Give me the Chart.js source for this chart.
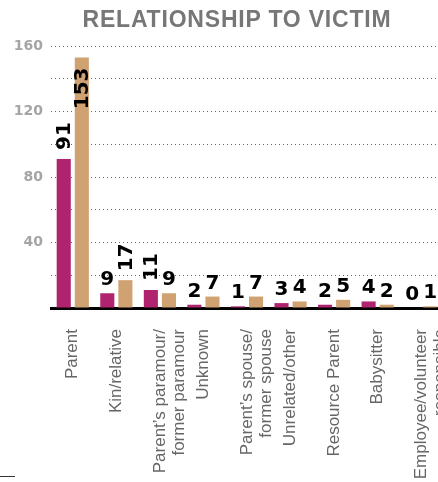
<!DOCTYPE html>
<html>
<head>
<meta charset="utf-8">
<script src="https://cdn.jsdelivr.net/npm/chart.js@4.4.0/dist/chart.umd.min.js"></script>
<style>
  html, body { margin: 0; padding: 0; background: #fff; overflow: hidden; }
  #wrap { position: relative; width: 443px; height: 482px; }
  #title {
    position: absolute; top: 6px; left: 0; width: 474px; text-align: center;
    font: bold 23px "Liberation Sans", Arial, sans-serif; letter-spacing: 0.8px; color: #777;
  }
  #foot { position: absolute; left: 0; top: 476px; width: 15px; height: 1px; background: #333; }
</style>
</head>
<body>
<div id="wrap">
  <canvas id="relChart" width="443" height="482"></canvas>
  <div id="title">RELATIONSHIP TO VICTIM</div>
  <div id="foot"></div>
</div>
<script>
// categories and the two series
const categories = [
  'Parent',
  'Kin/relative',
  ["Parent\u2019s paramour/", 'former paramour'],
  'Unknown',
  ["Parent\u2019s spouse/", 'former spouse'],
  'Unrelated/other',
  'Resource Parent',
  'Babysitter',
  ['Employee/volunteer', 'responsible']
];
const seriesA = [91, 9, 11, 2, 1, 3, 2, 4, 0];
const seriesB = [153, 17, 9, 7, 7, 4, 5, 2, 1];
const yTicks = [40, 80, 120, 160];

// value labels over the bars (two digits or more are turned upright)
const valueLabels = {
  id: 'valueLabels',
  afterDatasetsDraw(chart) {
    const ctx = chart.ctx;
    const top = chart.chartArea.top;
    ctx.save();
    ctx.fillStyle = '#000';
    ctx.font = 'bold 20px "DejaVu Sans"';
    chart.data.datasets.forEach((ds, i) => {
      chart.getDatasetMeta(i).data.forEach((bar, j) => {
        const txt = String(ds.data[j]);
        if (txt.length > 1) {
          const w = ctx.measureText(txt).width;
          ctx.save();
          ctx.textBaseline = 'middle';
          if (bar.y - 9 - w < top) {
            ctx.translate(bar.x + 1, bar.y + 10);
            ctx.rotate(-Math.PI / 2);
            ctx.textAlign = 'right';
          } else {
            ctx.translate(bar.x + 1, bar.y - 9);
            ctx.rotate(-Math.PI / 2);
            ctx.textAlign = 'left';
          }
          ctx.fillText(txt, 0, 0);
          ctx.restore();
        } else {
          ctx.textAlign = 'center';
          ctx.textBaseline = 'alphabetic';
          ctx.fillText(txt, bar.x, bar.y - 8);
        }
      });
    });
    ctx.restore();
  }
};

function initChart() {
  const ctx = document.getElementById('relChart').getContext('2d');
  new Chart(ctx, {
    type: 'bar',
    data: {
      labels: categories,
      datasets: [
        { data: seriesA, backgroundColor: '#b0236f', categoryPercentage: 0.83, barPercentage: 0.78 },
        { data: seriesB, backgroundColor: '#d0a272', categoryPercentage: 0.83, barPercentage: 0.78 }
      ]
    },
    options: {
      responsive: false,
      animation: false,
      layout: { padding: { top: 46, right: 0, bottom: 0, left: 0 } },
      plugins: { legend: { display: false }, tooltip: { enabled: false } },
      scales: {
        x: {
          grid: { display: false },
          border: { color: '#000', width: 3 },
          ticks: {
            minRotation: 90, maxRotation: 90, autoSkip: false, padding: 13,
            color: '#666', font: { family: '"Liberation Sans"', size: 17, lineHeight: 1.12 }
          },
          afterFit(scale) {
            scale.height = 174;
            scale.paddingLeft = 0;
            scale.paddingRight = 0;
          }
        },
        y: {
          min: 0, max: 160,
          border: { display: false, dash: [1, 3] },
          grid: { color: '#666', drawTicks: false },
          ticks: {
            stepSize: 20, padding: 8, color: '#a5a5a5',
            font: { family: '"DejaVu Sans"', size: 14, weight: 'bold' },
            callback: v => yTicks.includes(v) ? v : ''
          },
          afterFit(scale) { scale.width = 51; }
        }
      }
    },
    plugins: [valueLabels]
  });
}

window.addEventListener('DOMContentLoaded', initChart);
</script>
</body>
</html>
